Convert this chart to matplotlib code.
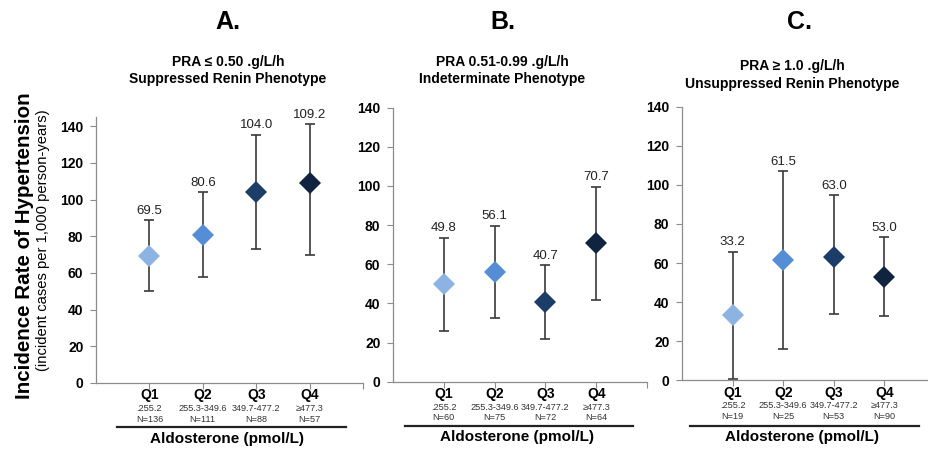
import matplotlib
matplotlib.use("Agg")
import matplotlib.pyplot as plt
from matplotlib.lines import Line2D

plt.rcParams['font.family'] = ['Liberation Sans', 'DejaVu Sans']

# Data
quartiles = ['Q1', 'Q2', 'Q3', 'Q4']
ranges = ['.255.2', '255.3-349.6', '349.7-477.2', '≥477.3']
colors = ['#8db3e2', '#558ed5', '#1c3d68', '#10233f']

panel_letters = ['A.', 'B.', 'C.']
panel_titles = ['PRA ≤ 0.50 .g/L/h\nSuppressed Renin Phenotype',
                'PRA 0.51-0.99 .g/L/h\nIndeterminate Phenotype',
                'PRA ≥ 1.0 .g/L/h\nUnsuppressed Renin Phenotype']

rate_a = [69.5, 80.6, 104.0, 109.2]
low_a = [50.3, 57.6, 73.2, 69.6]
high_a = [88.8, 104.0, 135.3, 141.0]
n_a = [136, 111, 88, 57]

rate_b = [49.8, 56.1, 40.7, 70.7]
low_b = [26.1, 32.7, 22.0, 41.7]
high_b = [73.6, 79.6, 59.6, 99.6]
n_b = [60, 75, 72, 64]

rate_c = [33.2, 61.5, 63.0, 53.0]
low_c = [0.5, 15.9, 33.8, 33.1]
high_c = [65.7, 107.1, 94.8, 73.2]
n_c = [19, 25, 53, 90]

W, H = 929, 449
fig = plt.figure(figsize=(W / 100, H / 100), dpi=100)

# axes boxes in pixels: left, right, y of zero, y of top
boxes = [(96, 363, 383, 117), (393, 647, 381.7, 107.7), (682, 929, 380.3, 106.7)]
ytops = [145, 140, 140]
xmax = [5.0, 5.0, 247 / 50.6]
title_pos = [(0.2454, 0.843), (0.5404, 0.843), (0.8525, 0.833)]
letter_x = [0.2454, 0.5414, 0.8611]
under = [(116.7, 346, 426.7, 439), (405, 633, 426, 437.3), (690, 919, 426, 436.7)]
xlab_x = [226.7, 516.7, 801.7]

data = [(rate_a, low_a, high_a, n_a), (rate_b, low_b, high_b, n_b),
        (rate_c, low_c, high_c, n_c)]

axis_gray = '#8c8c8c'

for k in range(3):
    l, r, y0, yt = boxes[k]
    ax = fig.add_axes([l / W, 1 - y0 / H, (r - l) / W, (y0 - yt) / H])
    rate, low, high, ns = data[k]
    x = [1, 2, 3, 4]

    for i in range(4):
        ax.errorbar(x[i], rate[i],
                    yerr=[[rate[i] - low[i]], [high[i] - rate[i]]],
                    fmt='none', ecolor='#3a3a3a', elinewidth=1.2,
                    capsize=3.5, capthick=1.2, zorder=2)
        ax.plot(x[i], rate[i], marker='D', markersize=11, color=colors[i],
                markeredgewidth=0, linestyle='none', zorder=3)
        ax.annotate(f'{rate[i]:.1f}', xy=(x[i], high[i]), xytext=(0, 2.5),
                    textcoords='offset points', ha='center', va='bottom',
                    fontsize=9.5, color='#222222')

    ax.set_xlim(0, xmax[k])
    ax.set_ylim(0, ytops[k])
    ax.set_yticks(range(0, 141, 20))
    ax.set_yticklabels([str(v) for v in range(0, 141, 20)],
                       fontweight='bold', fontsize=10)
    xt = [1, 2, 3, 4]
    if xmax[k] >= 5:
        xt.append(5)
    ax.set_xticks(xt)
    ax.set_xticklabels([])
    ax.tick_params(axis='both', length=4, width=0.8, color=axis_gray, pad=5)
    for s in ['top', 'right']:
        ax.spines[s].set_visible(False)
    for s in ['left', 'bottom']:
        ax.spines[s].set_color(axis_gray)
        ax.spines[s].set_linewidth(0.9)
    ax.patch.set_alpha(0)

    # category labels
    for i in range(4):
        ax.annotate(quartiles[i], xy=(x[i], 0), xycoords='data',
                    xytext=(0, -9), textcoords='offset points',
                    ha='center', va='center', fontsize=10, fontweight='bold',
                    annotation_clip=False)
        ax.annotate(ranges[i], xy=(x[i], 0), xycoords='data',
                    xytext=(0, -18.5), textcoords='offset points',
                    ha='center', va='center', fontsize=6.6, color='#333333',
                    annotation_clip=False)
        ax.annotate(f'N={ns[i]}', xy=(x[i], 0), xycoords='data',
                    xytext=(0, -26.1), textcoords='offset points',
                    ha='center', va='center', fontsize=6.6, color='#333333',
                    annotation_clip=False)

    # panel letter and subtitle
    fig.text(letter_x[k], 0.951, panel_letters[k], ha='center', va='center',
             fontsize=18, fontweight='bold')
    fig.text(title_pos[k][0], title_pos[k][1], panel_titles[k], ha='center',
             va='center', fontsize=10, fontweight='bold', linespacing=1.3)

    # underline and x label
    ux0, ux1, uy, ly = under[k]
    fig.add_artist(Line2D([ux0 / W, ux1 / W], [1 - uy / H, 1 - uy / H],
                          color='#222222', linewidth=1.6))
    fig.text(xlab_x[k] / W, 1 - ly / H, 'Aldosterone (pmol/L)', ha='center',
             va='center', fontsize=11, fontweight='bold')

fig.text(25 / W, 1 - 246 / H, 'Incidence Rate of Hypertension', rotation=90,
         ha='center', va='center', fontsize=14.8, fontweight='bold')
fig.text(43 / W, 1 - 240 / H, '(incident cases per 1,000 person-years)',
         rotation=90, ha='center', va='center', fontsize=10.6)

fig.savefig('out.png', dpi=100)
